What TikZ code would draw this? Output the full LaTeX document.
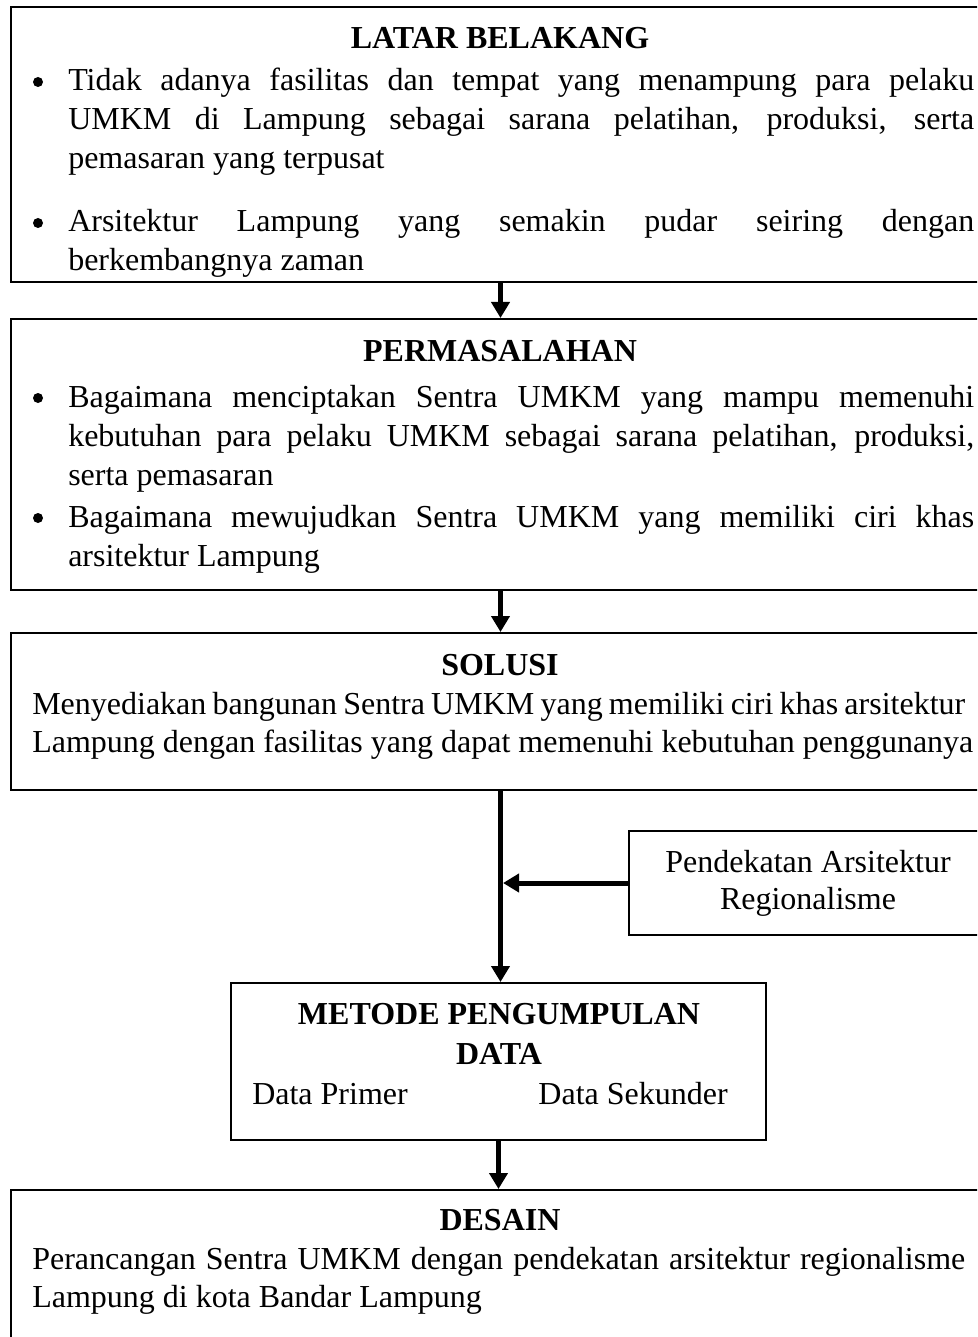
\documentclass[tikz,border=0pt]{standalone}
\usepackage{fontspec}
\setmainfont{Liberation Serif}
\usetikzlibrary{arrows.meta,fit}

\newcommand{\bodysize}{\fontsize{24}{29}\selectfont}
\newcommand{\fullline}[1]{\makebox[679.5pt][s]{#1}}
\newcommand{\wideline}[1]{\makebox[699.75pt][s]{#1}}

\tikzset{
  frame/.style={draw, line width=1.5pt, inner sep=0pt},
  head/.style={font=\bodysize\bfseries, anchor=base, inner sep=0pt},
  txt/.style={anchor=base west, inner sep=0pt},
  mid/.style={anchor=base, inner sep=0pt},
  dot/.style={circle, fill, inner sep=0pt, minimum size=7.5pt},
  arr/.style={line width=3.75pt, -{Triangle[width=13.5pt,length=12pt]}}
}

\begin{document}
\begin{tikzpicture}[x=0.75pt, y=-0.75pt, font=\bodysize]
    \useasboundingbox (0,0) rectangle (977,1337);
    \clip (0,0) rectangle (977,1337);

    % Latar belakang
    \node[frame, fit={(11,7) (990,282)}] (latar) {};
    \node[head] (latarT) at (500,49) {LATAR BELAKANG};
    \node[dot] (latarB1) at (38,82) {};
    \node[txt] (latar1) at (68,91) {\fullline{Tidak adanya fasilitas dan tempat yang menampung para pelaku}};
    \node[txt] (latar2) at (68,130) {\fullline{UMKM di Lampung sebagai sarana pelatihan, produksi, serta}};
    \node[txt] (latar3) at (68,169) {pemasaran yang terpusat};
    \node[dot] (latarB2) at (38,223) {};
    \node[txt] (latar4) at (68,232) {\fullline{Arsitektur Lampung yang semakin pudar seiring dengan}};
    \node[txt] (latar5) at (68,271) {berkembangnya zaman};

    % Permasalahan
    \node[frame, fit={(11,319) (990,590)}] (masalah) {};
    \node[head] (masalahT) at (500,361) {PERMASALAHAN};
    \node[dot] (masalahB1) at (38,398) {};
    \node[txt] (masalah1) at (68,407) {\fullline{Bagaimana menciptakan Sentra UMKM yang mampu memenuhi}};
    \node[txt] (masalah2) at (68,446) {\fullline{kebutuhan para pelaku UMKM sebagai sarana pelatihan, produksi,}};
    \node[txt] (masalah3) at (68,485) {serta pemasaran};
    \node[dot] (masalahB2) at (38,518) {};
    \node[txt] (masalah4) at (68,527) {\fullline{Bagaimana mewujudkan Sentra UMKM yang memiliki ciri khas}};
    \node[txt] (masalah5) at (68,566) {arsitektur Lampung};

    % Solusi
    \node[frame, fit={(11,633) (990,790)}] (solusi) {};
    \node[head] (solusiT) at (500,675) {SOLUSI};
    \node[txt] (solusi1) at (32,714) {\wideline{Menyediakan bangunan Sentra UMKM yang memiliki ciri khas arsitektur}};
    \node[txt] (solusi2) at (32,752) {Lampung dengan fasilitas yang dapat memenuhi kebutuhan penggunanya};

    % Pendekatan
    \node[frame, fit={(629,831) (990,935)}] (pendekatan) {};
    \node[mid] (pendekatan1) at (808,872) {Pendekatan Arsitektur};
    \node[mid] (pendekatan2) at (808,909) {Regionalisme};

    % Metode pengumpulan data
    \node[frame, fit={(231,983) (766,1140)}] (metode) {};
    \node[head] (metodeT1) at (499,1024) {METODE PENGUMPULAN};
    \node[head] (metodeT2) at (499,1064) {DATA};
    \node[txt] (primer) at (252,1104) {Data Primer};
    \node[anchor=base east, inner sep=0pt] (sekunder) at (728,1104) {Data Sekunder};

    % Desain
    \node[frame, fit={(11,1190) (990,1400)}] (desain) {};
    \node[head] (desainT) at (500,1230) {DESAIN};
    \node[txt] (desain1) at (32,1269) {\wideline{Perancangan Sentra UMKM dengan pendekatan arsitektur regionalisme}};
    \node[txt] (desain2) at (32,1307) {Lampung di kota Bandar Lampung};

    % Alur
    \draw[arr] (latar.south) -- (masalah.north);
    \draw[arr] (masalah.south) -- (solusi.north);
    \draw[arr] (solusi.south) -- (solusi.south |- metode.north);
    \draw[arr, shorten >=1.9pt] (pendekatan.west) -- (pendekatan.west -| solusi.south);
    \draw[arr] (metode.south) -- (metode.south |- desain.north);
\end{tikzpicture}
\end{document}
